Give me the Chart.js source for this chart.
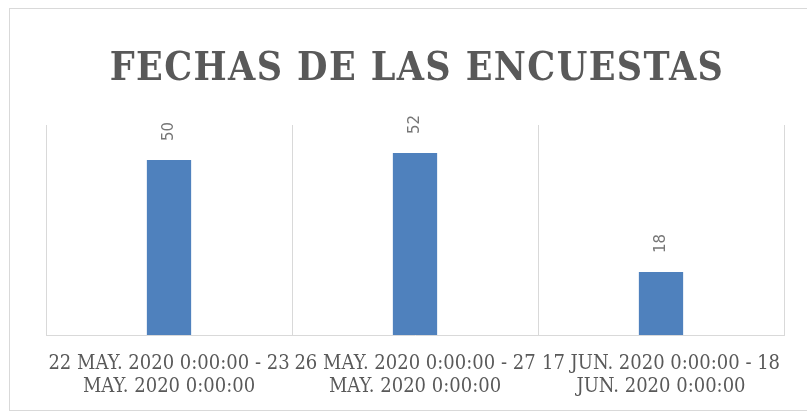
<!DOCTYPE html>
<html>
<head>
<meta charset="utf-8">
<script src="https://cdn.jsdelivr.net/npm/chart.js@4"></script>
<style>
  html, body { margin: 0; padding: 0; background: #ffffff; }
  #frame { position: absolute; left: 9px; top: 8px; width: 820px; height: 403px; border: 1px solid #d9d9d9; box-sizing: border-box; }
  #wrap { position: absolute; left: 0; top: 0; width: 807px; height: 413px; }
</style>
</head>
<body>
<div id="frame"></div>
<div id="wrap"><canvas id="c" width="807" height="413"></canvas></div>
<script>
const titleText = "FECHAS DE LAS ENCUESTAS";
const categories = [
  ["22 MAY. 2020 0:00:00 - 23", "MAY. 2020 0:00:00"],
  ["26 MAY. 2020 0:00:00 - 27", "MAY. 2020 0:00:00"],
  ["17 JUN. 2020 0:00:00 - 18", "JUN. 2020 0:00:00"]
];
const counts = [50, 52, 18];

const titleDraw = {
  id: 'titleDraw',
  afterDraw(chart) {
    const ctx = chart.ctx;
    ctx.save();
    ctx.fillStyle = '#595959';
    ctx.font = 'bold 39px "DejaVu Serif Condensed", "Liberation Serif", serif';
    ctx.letterSpacing = '1.4px';
    ctx.textAlign = 'center';
    ctx.textBaseline = 'alphabetic';
    ctx.fillText(titleText, 417, 80);
    ctx.restore();
  }
};

const valueLabels = {
  id: 'valueLabels',
  afterDatasetsDraw(chart) {
    const ctx = chart.ctx;
    const meta = chart.getDatasetMeta(0);
    ctx.save();
    ctx.fillStyle = '#767676';
    ctx.font = '15px "DejaVu Sans", sans-serif';
    ctx.textAlign = 'left';
    ctx.textBaseline = 'middle';
    meta.data.forEach((bar, i) => {
      ctx.save();
      ctx.translate(bar.x, bar.y - 19);
      ctx.rotate(-Math.PI / 2);
      ctx.fillText(String(chart.data.datasets[0].data[i]), 0, 0);
      ctx.restore();
    });
    ctx.restore();
  }
};

new Chart(document.getElementById('c'), {
  type: 'bar',
  data: {
    labels: categories,
    datasets: [{
      data: counts,
      backgroundColor: '#4f81bd',
      borderWidth: 0,
      barPercentage: 0.18,
      categoryPercentage: 1.0
    }]
  },
  options: {
    responsive: false,
    animation: false,
    layout: { padding: { left: 46, right: 23, top: 125, bottom: 0 } },
    plugins: {
      legend: { display: false },
      tooltip: { enabled: false },
      title: { display: false }
    },
    scales: {
      x: {
        offset: true,
        afterFit(scale) { scale.height = 78; },
        grid: { offset: true, color: '#d9d9d9', lineWidth: 1, drawTicks: false },
        border: { color: '#d9d9d9' },
        ticks: {
          color: '#595959',
          font: { family: '"DejaVu Serif Condensed", "Liberation Serif", serif', size: 20, lineHeight: 1.15 },
          maxRotation: 0, minRotation: 0, autoSkip: false, padding: 17
        }
      },
      y: {
        display: false,
        min: 0, max: 60
      }
    }
  },
  plugins: [valueLabels, titleDraw]
});
</script>
</body>
</html>
